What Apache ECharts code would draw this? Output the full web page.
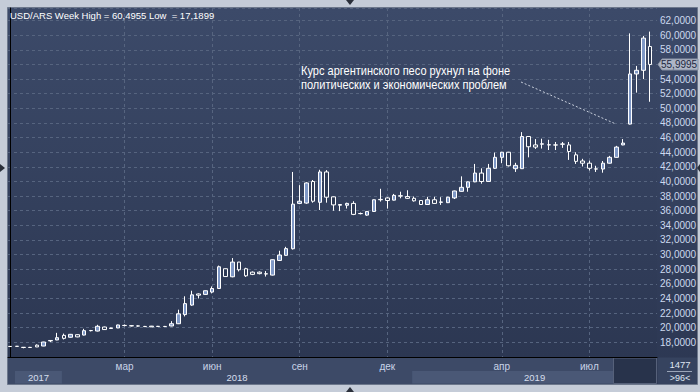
<!DOCTYPE html>
<html><head><meta charset="utf-8">
<script src="https://cdn.jsdelivr.net/npm/echarts@6/dist/echarts.min.js"></script>
<style>html,body{margin:0;padding:0;background:#c5ccd8;}#c{width:700px;height:392px;}</style>
</head><body><div id="c"></div>
<script>
// ---- data (weekly candles, USD/ARS) ----
const firstWeek = '2017-11-06';
const open  = [17.45,17.47,17.33,17.30,17.62,17.50,18.20,18.33,18.96,18.70,19.05,19.00,19.60,19.55,20.10,19.90,19.97,20.30,20.28,20.25,20.18,20.12,20.20,20.17,20.24,20.55,21.80,23.10,24.62,24.56,24.88,25.37,28.07,26.97,28.98,28.07,27.60,27.60,27.35,27.20,29.20,29.90,30.80,37.00,37.05,40.00,37.15,41.30,37.90,36.75,36.75,37.00,35.60,35.40,35.90,37.50,37.75,37.45,38.00,37.95,37.70,37.40,36.85,37.50,37.15,37.10,37.75,38.65,39.20,39.95,41.15,40.00,41.80,43.30,44.00,41.75,41.75,46.15,45.00,45.10,45.00,45.00,45.10,45.00,43.64,42.80,42.50,41.70,41.70,42.50,43.30,45.00,47.85,54.70,55.20,58.45];
const close = [17.43,17.45,17.30,17.32,17.38,18.05,18.26,18.64,18.55,19.10,18.75,19.60,19.62,20.20,19.75,19.97,20.38,20.32,20.25,20.23,20.15,20.22,20.17,20.18,20.55,21.90,23.30,24.50,24.45,25.06,25.37,28.34,27.00,28.98,27.93,27.10,27.30,27.40,27.38,29.30,29.94,30.82,36.90,37.30,39.80,37.30,41.30,37.85,36.80,36.85,37.00,35.50,35.62,35.90,37.50,37.55,37.40,38.10,38.05,37.70,37.35,36.85,37.50,37.00,37.20,37.85,38.70,39.20,39.95,41.15,40.00,41.80,43.30,44.00,42.15,42.20,46.15,44.75,44.70,45.15,45.02,44.98,45.12,44.10,42.75,42.50,41.80,41.72,42.50,43.30,44.70,45.25,54.70,55.20,59.60,55.9995];
const low   = [17.40,17.40,17.1899,17.25,17.35,17.48,18.05,18.30,18.40,18.65,18.70,18.95,19.50,19.50,19.70,19.85,19.95,20.20,20.18,20.15,20.10,20.10,20.10,20.10,20.20,20.50,21.55,23.00,24.00,24.50,24.70,25.30,26.95,26.90,27.70,26.95,27.20,27.30,27.00,27.15,29.15,29.85,30.70,36.90,36.95,37.10,36.10,37.10,36.00,35.95,36.30,35.40,35.50,35.30,35.85,37.25,36.30,37.40,37.70,37.60,37.25,36.80,36.80,36.95,36.80,37.05,37.60,38.60,38.60,39.90,39.70,39.95,41.70,42.50,42.05,41.30,41.70,43.30,44.45,44.50,44.30,44.30,44.60,42.95,42.40,42.05,41.50,41.30,41.20,42.45,43.25,44.95,47.80,52.15,54.00,50.90];
const high  = [17.48,17.50,17.36,17.38,17.72,18.08,18.30,19.30,19.20,19.15,19.10,19.85,19.70,20.40,20.15,20.00,20.42,20.45,20.35,20.32,20.25,20.25,20.25,20.25,20.90,22.47,24.30,25.06,24.70,25.10,25.65,28.50,28.10,29.53,29.00,28.20,27.70,27.70,27.75,29.35,30.53,31.07,41.30,39.50,39.90,40.20,41.60,41.55,37.95,36.90,37.10,37.30,35.75,35.95,37.55,39.00,37.85,38.30,38.60,38.80,37.95,37.45,37.90,37.90,37.85,37.90,38.75,40.70,40.00,42.40,41.80,42.40,43.95,44.05,44.05,42.55,46.75,46.20,45.80,45.85,45.70,45.40,45.40,45.40,44.00,43.10,42.85,42.15,42.80,43.50,44.87,45.80,60.25,55.80,59.90,60.4955];
const monthLabels = ['мар','июн','сен','дек','апр','июл'];
const monthWeeks  = ['2018-03-05','2018-06-04','2018-09-03','2018-12-03','2019-04-01','2019-07-01'];
const yearLabels  = ['2017','2018','2019'];
const yearWeeks   = ['2017-11-06','2018-01-01','2018-12-31'];
const lastPrice = 55.9995;
const titleText = 'USD/ARS Week High = 60,4955 Low  = 17,1899';
const noteLines = ['Курс аргентинского песо рухнул на фоне','политических и экономических проблем'];
const footerTop = '1477', footerBottom = '>96<';

// ---- helpers ----
const FONT = '"Liberation Sans", Arial, sans-serif';
const DAY = 86400000;
const t0 = Date.parse(firstWeek + 'T00:00:00Z');
const weekIndex = d => Math.round((Date.parse(d + 'T00:00:00Z') - t0) / (7 * DAY));
const monthIdx = monthWeeks.map(weekIndex);
const yearIdx = yearWeeks.map(weekIndex);
const candles = open.map((o, i) => [i, o, close[i], low[i], high[i]]);
const fmt = v => v.toFixed(4).replace('.', ',');

const chart = echarts.init(document.getElementById('c'), null, {renderer: 'svg', width: 700, height: 392});
const GRID = {left: 8, right: 43, top: 8, bottom: 35};
chart.setOption({
  animation: false,
  backgroundColor: 'transparent',
  grid: Object.assign({show: true, borderWidth: 0,
    backgroundColor: {type: 'linear', x: 0, y: 0, x2: 0, y2: 1,
      colorStops: [{offset: 0, color: '#3c4a69'}, {offset: 1, color: '#2c3752'}]}}, GRID),
  xAxis: {
    type: 'value', min: -0.3, max: 96.04, position: 'bottom',
    axisLine: {show: true, onZero: false, lineStyle: {color: '#000', width: 1}},
    axisTick: {show: false, customValues: monthIdx},
    axisLabel: {customValues: monthIdx, color: '#c9d4e8', fontSize: 10, fontFamily: FONT, margin: 4,
      formatter: v => monthLabels[monthIdx.indexOf(Math.round(v))] || ''},
    splitLine: {show: true, lineStyle: {color: '#56647f', type: [3, 3], width: 1}}
  },
  yAxis: {
    type: 'value', position: 'right', min: 16, max: 63.72, interval: 2,
    axisLine: {show: true, lineStyle: {color: '#000', width: 1}},
    axisTick: {show: false},
    axisLabel: {color: '#cdd9ee', fontSize: 10, fontFamily: FONT, margin: 3,
      formatter: v => (Math.abs(v % 2) < 1e-6 && v > 16.5 && Math.abs(v - lastPrice) > 1.2) ? fmt(v) : ''},
    splitLine: {show: true, lineStyle: {color: '#56647f', type: [3, 3], width: 1}}
  },
  series: [{
    type: 'candlestick', data: candles, encode: {x: 0, y: [1, 2, 3, 4]},
    barWidth: 4,
    itemStyle: {color: '#7f98c6', color0: '#2e3a55', borderColor: '#ffffff', borderColor0: '#ffffff', borderWidth: 1}
  }]
});

const px = i => chart.convertToPixel({xAxisIndex: 0}, i);
const py = v => chart.convertToPixel({yAxisIndex: 0}, v);
const plotR = 700 - GRID.right, plotB = 392 - GRID.bottom;
const g = [];
// panel
g.push({type: 'rect', z: -3, shape: {x: 7.5, y: 7.5, width: 690, height: 377},
  style: {fill: {type: 'linear', x: 0, y: 0, x2: 0, y2: 1,
    colorStops: [{offset: 0, color: '#3c4a69'}, {offset: 1, color: '#2c3752'}]}, stroke: '#6d788c', lineWidth: 1}});
// bottom axis band
g.push({type: 'rect', z: -2, shape: {x: 8, y: plotB + 0.5, width: plotR - 8, height: 384 - plotB - 0.5}, style: {fill: '#3d4a67'}});
g.push({type: 'rect', z: -2, shape: {x: plotR + 0.5, y: plotB + 0.5, width: 697 - plotR - 0.5, height: 384 - plotB - 0.5}, style: {fill: '#36435f'}});
// year bands + labels
const yStarts = yearIdx.map((i, k) => Math.max(px(i - 0.3), 15));
yearLabels.forEach((lab, k) => {
  const x0 = yStarts[k], x1 = k + 1 < yStarts.length ? yStarts[k + 1] : plotR;
  if (k % 2 === 0) g.push({type: 'rect', z: -1, shape: {x: x0, y: 371, width: x1 - x0, height: 12.5}, style: {fill: '#4a5876'}});
  g.push({type: 'text', z: 10, x: (x0 + x1) / 2, y: 377.5,
    style: {text: lab, fill: '#d6deed', font: '9.5px ' + FONT, align: 'center', verticalAlign: 'middle'}});
});
// scroll thumb
g.push({type: 'rect', z: 0, shape: {x: 613.5, y: plotB + 1, width: plotR - 614, height: 384 - plotB - 1.5},
  style: {fill: '#28334b', stroke: '#56617a', lineWidth: 1}});
// footer cell
g.push({type: 'text', z: 10, x: 680, y: 364.5, style: {text: footerTop, fill: '#dfe6f2', font: '9.5px ' + FONT, align: 'center', verticalAlign: 'middle'}});
g.push({type: 'line', z: 10, shape: {x1: 667, y1: 371.5, x2: 692, y2: 371.5}, style: {stroke: '#9aa5b8', lineWidth: 1}});
g.push({type: 'text', z: 10, x: 680, y: 377.5, style: {text: footerBottom, fill: '#dfe6f2', font: '9px ' + FONT, align: 'center', verticalAlign: 'middle'}});
// title
g.push({type: 'text', z: 10, x: 10, y: 15, style: {text: titleText, fill: '#ffffff', font: '9.5px ' + FONT, verticalAlign: 'middle'}});
// annotation (narrow lettering like the reference)
noteLines.forEach((t, k) => g.push({type: 'text', z: 10, x: 301, y: 70.5 + k * 14.5, scaleX: 0.92, originX: 0,
  style: {text: t, fill: '#ffffff', font: '12px ' + FONT, verticalAlign: 'middle'}}));
g.push({type: 'line', z: 10, shape: {x1: 521, y1: 82, x2: px(89.7), y2: py(47.95)},
  style: {stroke: '#c8cfdc', lineWidth: 1, lineDash: [2, 2]}});
// last price tag
const yp = py(lastPrice);
g.push({type: 'polygon', z: 10, shape: {points: [[658, yp], [662, yp - 5.5], [698, yp - 5.5], [698, yp + 5.5], [662, yp + 5.5]]},
  style: {fill: '#aeb6c6', stroke: '#8a94a6', lineWidth: 1}});
g.push({type: 'text', z: 11, x: 661, y: yp, style: {text: fmt(lastPrice), fill: '#1d2841', font: '10px ' + FONT, verticalAlign: 'middle'}});
// frame arrows
g.push({type: 'polygon', z: 10, shape: {points: [[346, 0], [354, 0], [350, 5]]}, style: {fill: '#2a2f3a'}});
g.push({type: 'polygon', z: 10, shape: {points: [[346, 392], [354, 392], [350, 387]]}, style: {fill: '#2a2f3a'}});
g.push({type: 'polygon', z: 10, shape: {points: [[0, 164], [0, 172], [5, 168]]}, style: {fill: '#2a2f3a'}});
g.push({type: 'polygon', z: 10, shape: {points: [[700, 164], [700, 172], [697, 168]]}, style: {fill: '#2a2f3a'}});
chart.setOption({graphic: {elements: g}});
</script></body></html>
